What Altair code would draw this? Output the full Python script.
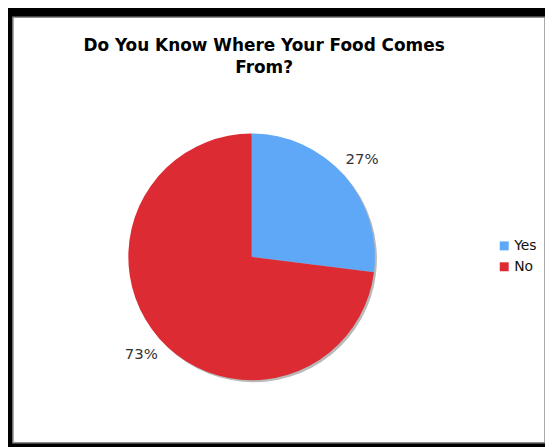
import altair as alt
import pandas as pd

answers = ["Yes", "No"]
percents = [27, 73]
colors = ["#5fa8f8", "#dc2b33"]
title_lines = ["Do You Know Where Your Food Comes", "From?"]

df = pd.DataFrame({"answer": answers, "pct": percents, "order": list(range(len(answers)))})
df["label"] = df["pct"].astype(str) + "%"

base = alt.Chart(df).encode(
    theta=alt.Theta("pct:Q", stack=True),
    order=alt.Order("order:Q"),
)

shadow = base.mark_arc(radius=124, color="#8a8a8a", opacity=0.6).encode(
    x=alt.value(242), y=alt.value(243)
)

pie = base.mark_arc(radius=124).encode(
    x=alt.value(240),
    y=alt.value(241),
    color=alt.Color(
        "answer:N",
        scale=alt.Scale(domain=answers, range=colors),
        legend=alt.Legend(
            title=None,
            orient="none",
            legendX=487,
            legendY=223,
            symbolType="square",
            symbolSize=81,
            symbolStrokeWidth=0,
            labelFont="DejaVu Sans",
            labelFontSize=14,
            labelColor="#111111",
            labelOffset=3,
            rowPadding=7,
        ),
    ),
)

text = base.mark_text(
    radius=148, font="DejaVu Sans", fontSize=15, color="#333333"
).encode(text="label:N", x=alt.value(240), y=alt.value(241))

chart = (
    alt.layer(shadow, pie, text)
    .properties(
        width=535,
        height=428,
        background="black",
        padding={"left": 5, "top": 8, "right": 0, "bottom": 3},
        autosize=alt.AutoSizeParams(type="none"),
        title=alt.TitleParams(
            text=title_lines,
            font="DejaVu Sans",
            fontSize=17,
            fontWeight="bold",
            color="black",
            anchor="middle",
            baseline="top",
            offset=-60,
            dx=-15,
            lineHeight=22,
        ),
    )
    .configure_view(fill="white", stroke="#8c8c8c", strokeWidth=1.5)
)

chart.save("out.html", embed_options={"renderer": "svg", "actions": False})
